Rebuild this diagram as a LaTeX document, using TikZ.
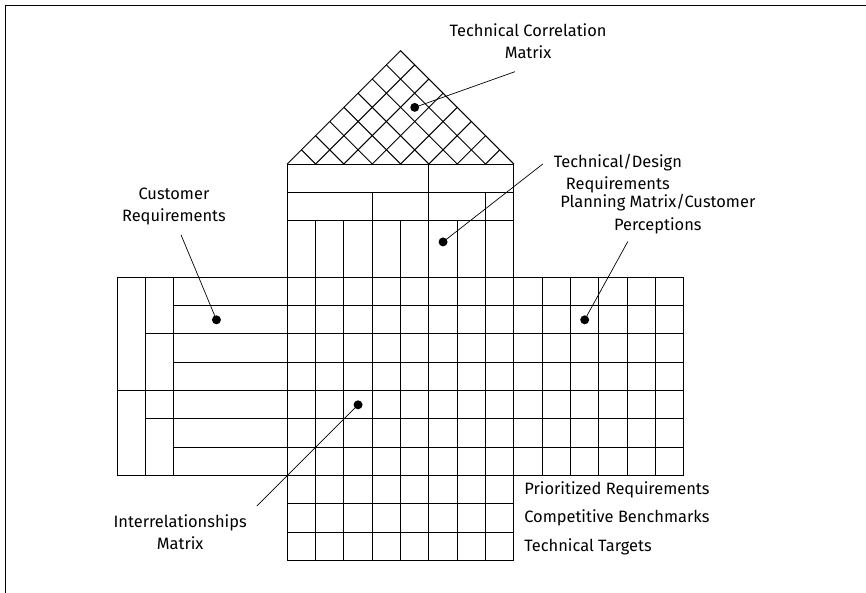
\documentclass[tikz,border=0pt]{standalone}
\usepackage{fontspec}
\setmainfont{Fira Sans}
\usepackage{tikz}

\tikzset{
  lbl/.style={font=\fontsize{16.5}{22.5}\selectfont,align=center,inner sep=0pt},
  rowlbl/.style={font=\fontsize{16.5}{22.5}\selectfont,anchor=west,inner sep=0pt},
  dot/.style={circle,fill=black,inner sep=0pt,minimum size=9pt},
  lead/.style={line width=0.7pt}
}

\begin{document}
\begin{tikzpicture}[line width=1pt]
            \useasboundingbox (-4.14,-1.14) rectangle (26.43,19.79);
            % Frame (top and left edge)
            \draw[line width=1.1pt] (-3.94,-1.14) -- (-3.94,19.59) -- (26.43,19.59);
            % Central column: technical requirements over relationships and targets
            \draw (6,0) grid (14,10);
            \foreach \x in {6,...,14}
                \draw (\x,10) -- (\x,12);
            \draw (6,12) rectangle (14,14);
            \draw (6,13) -- (14,13);
            \foreach \x in {9,11,13}
                \draw (\x,12) -- (\x,13);
            \draw (11,13) -- (11,14);
            % Roof: correlation matrix
            \draw (6,14) -- (10,18) -- (14,14);
            \foreach \k in {1,...,7} {
                \draw (6+\k,14) -- ({10+\k/2},{18-\k/2});
                \draw (6+\k,14) -- ({6+\k/2},{14+\k/2});
            }
            % Left wing: customer requirements
            \draw (0,3) rectangle (6,10);
            \foreach \x in {1,2}
                \draw (\x,3) -- (\x,10);
            \draw (0,6) -- (6,6);
            \foreach \y in {8,5}
                \draw (1,\y) -- (6,\y);
            \foreach \y in {9,7,4}
                \draw (2,\y) -- (6,\y);
            % Right wing: planning matrix
            \draw (14,3) grid (20,10);
            % Labels
            \node[lbl] (TCM) at (14.5,18.33) {Technical Correlation\\Matrix};
            \node[lbl] (TDR) at (17.67,13.67) {Technical/Design\\Requirements};
            \node[lbl] (PMC) at (19.08,12.23) {Planning Matrix/Customer\\Perceptions};
            \node[lbl] (CR) at (2.0,12.5) {Customer\\Requirements};
            \node[lbl] (IRM) at (2.22,1.0) {Interrelationships\\Matrix};
            \node[rowlbl] (PR) at (14.35,2.5) {Prioritized Requirements};
            \node[rowlbl] (CB) at (14.35,1.5) {Competitive Benchmarks};
            \node[rowlbl] (TT) at (14.35,0.5) {Technical Targets};
            % Dots
            \node[dot] (TCMdot) at (10.5,16) {};
            \node[dot] (TDRdot) at (11.5,11.25) {};
            \node[dot] (PMCdot) at (16.5,8.5) {};
            \node[dot] (CRdot) at (3.5,8.5) {};
            \node[dot] (IRMdot) at (8.5,5.5) {};
            % Leader lines
            \coordinate (TCMend) at (14.04,17.26);
            \coordinate (TDRend) at (15.02,14.0);
            \coordinate (PMCend) at (18.02,11.26);
            \coordinate (CRend) at (2.25,11.5);
            \coordinate (IRMend) at (4.93,1.93);
            \draw[lead] (TCMend) -- (TCMdot.center);
            \draw[lead] (TDRend) -- (TDRdot.center);
            \draw[lead] (PMCend) -- (PMCdot.center);
            \draw[lead] (CRend) -- (CRdot.center);
            \draw[lead] (IRMend) -- (IRMdot.center);
        \end{tikzpicture}
\end{document}
